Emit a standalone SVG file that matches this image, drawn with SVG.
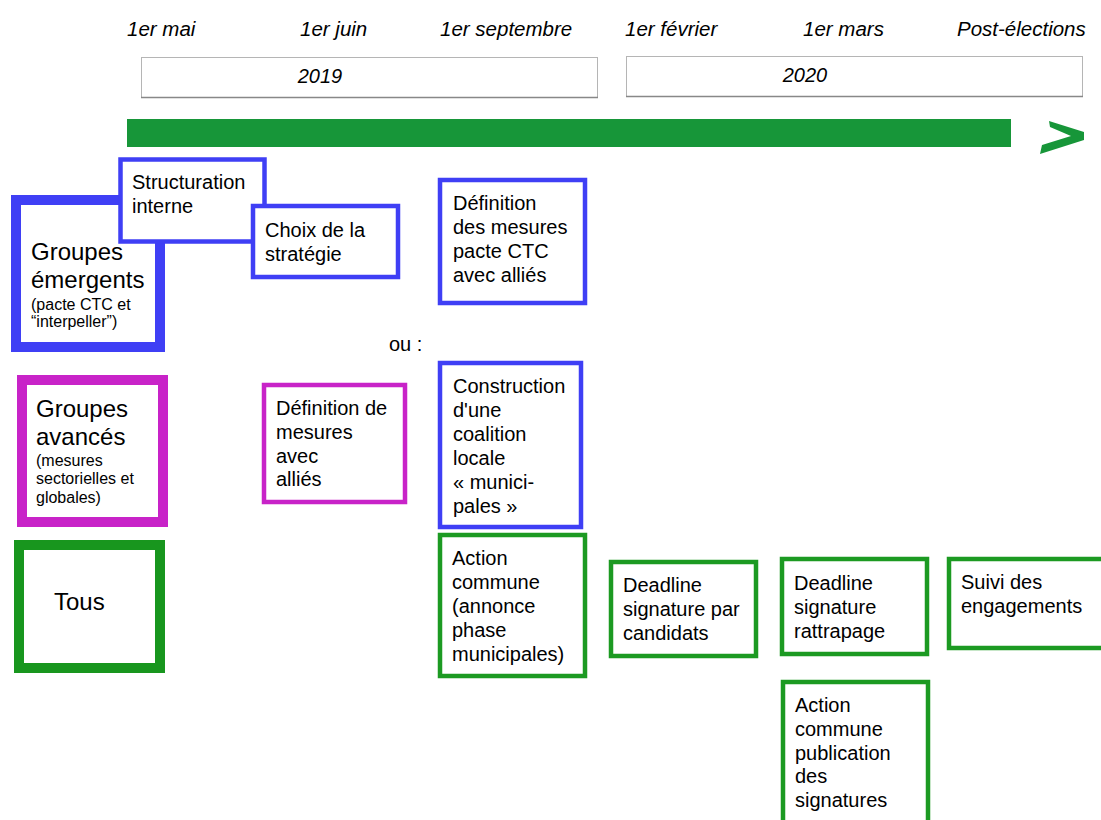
<svg xmlns="http://www.w3.org/2000/svg" width="1101" height="820" viewBox="0 0 1101 820">
<style>
text{font-family:"Liberation Sans",Arial,sans-serif;fill:#000}
.hdr{font-size:20.5px;font-style:italic}
.yr{font-size:20px;font-style:italic;text-anchor:middle}
.t{font-size:20px}
.big{font-size:24px}
.sm{font-size:16px}
.yb{fill:#fff;stroke:#b5b5b5;stroke-width:1}
.b{fill:#fff;stroke:#3f3ff5;stroke-width:4.5}
.bT{fill:#fff;stroke:#3f3ff5;stroke-width:10}
.m{fill:#fff;stroke:#c823c8;stroke-width:4.5}
.mT{fill:#fff;stroke:#c823c8;stroke-width:10}
.g{fill:#fff;stroke:#1c9a22;stroke-width:4.5}
.gT{fill:#fff;stroke:#18961e;stroke-width:10}
</style>
<rect width="1101" height="820" fill="#fff"/>
<g id="timeline">
<text class="hdr" x="127" y="36">1er mai</text>
<text class="hdr" x="300" y="36">1er juin</text>
<text class="hdr" x="440" y="36">1er septembre</text>
<text class="hdr" x="625" y="36">1er février</text>
<text class="hdr" x="803" y="36">1er mars</text>
<text class="hdr" x="957" y="36">Post-élections</text>
<rect class="yb" x="141.5" y="57.5" width="456" height="40"/>
<line x1="141" y1="97.5" x2="598" y2="97.5" stroke="#888" stroke-width="1.5"/>
<text class="yr" x="320" y="83">2019</text>
<rect class="yb" x="626.5" y="56.5" width="456" height="40"/>
<line x1="626" y1="96.5" x2="1083" y2="96.5" stroke="#888" stroke-width="1.5"/>
<text class="yr" x="805" y="82">2020</text>
<rect x="127" y="119" width="884" height="28" fill="#179639"/>
<polygon points="1049,121 1084,132 1084,140 1040,154 1042,145 1071,136 1050,127" fill="#179639"/>
</g>
<g id="groupes-emergents">
<rect class="bT" x="16" y="200" width="144" height="147"/>
<text class="big" x="31" y="260">Groupes</text>
<text class="big" x="31" y="288">émergents</text>
<text class="sm" x="31" y="310">(pacte CTC et</text>
<text class="sm" x="31" y="327">“interpeller”)</text>
</g>
<g id="structuration">
<rect class="b" x="120.5" y="159.5" width="144" height="82"/>
<text class="t" x="132" y="189">Structuration</text>
<text class="t" x="132" y="213">interne</text>
</g>
<g id="choix">
<rect class="b" x="253" y="206" width="145" height="71"/>
<text class="t" x="265" y="237">Choix de la</text>
<text class="t" x="265" y="261">stratégie</text>
</g>
<g id="definition-pacte">
<rect class="b" x="440" y="180" width="145" height="123"/>
<text class="t" x="453" y="210">Définition</text>
<text class="t" x="453" y="234">des mesures</text>
<text class="t" x="453" y="258">pacte CTC</text>
<text class="t" x="453" y="282">avec alliés</text>
</g>
<g id="ou">
<text class="t" x="389" y="351">ou :</text>
</g>
<g id="construction">
<rect class="b" x="440" y="363" width="141" height="164"/>
<text class="t" x="453" y="393">Construction</text>
<text class="t" x="453" y="417">d'une</text>
<text class="t" x="453" y="441">coalition</text>
<text class="t" x="453" y="465">locale</text>
<text class="t" x="453" y="489">« munici-</text>
<text class="t" x="453" y="513">pales »</text>
</g>
<g id="groupes-avances">
<rect class="mT" x="22" y="380" width="141" height="142"/>
<text class="big" x="36" y="417">Groupes</text>
<text class="big" x="36" y="445">avancés</text>
<text class="sm" x="36" y="466">(mesures</text>
<text class="sm" x="36" y="484">sectorielles et</text>
<text class="sm" x="36" y="503">globales)</text>
</g>
<g id="definition-mesures">
<rect class="m" x="264" y="385" width="141" height="117"/>
<text class="t" x="276" y="415">Définition de</text>
<text class="t" x="276" y="439">mesures</text>
<text class="t" x="276" y="463">avec</text>
<text class="t" x="276" y="486">alliés</text>
</g>
<g id="tous">
<rect class="gT" x="19" y="545" width="141" height="123"/>
<text class="big" x="54" y="610">Tous</text>
</g>
<g id="action-commune">
<rect class="g" x="440" y="535" width="145" height="141"/>
<text class="t" x="452" y="565">Action</text>
<text class="t" x="452" y="589">commune</text>
<text class="t" x="452" y="613">(annonce</text>
<text class="t" x="452" y="637">phase</text>
<text class="t" x="452" y="661">municipales)</text>
</g>
<g id="deadline-candidats">
<rect class="g" x="611" y="562" width="145" height="94"/>
<text class="t" x="623" y="592">Deadline</text>
<text class="t" x="623" y="616">signature par</text>
<text class="t" x="623" y="640">candidats</text>
</g>
<g id="deadline-rattrapage">
<rect class="g" x="782" y="559" width="145" height="95"/>
<text class="t" x="794" y="590">Deadline</text>
<text class="t" x="794" y="614">signature</text>
<text class="t" x="794" y="638">rattrapage</text>
</g>
<g id="suivi">
<rect class="g" x="949" y="559" width="160" height="89"/>
<text class="t" x="961" y="589">Suivi des</text>
<text class="t" x="961" y="613">engagements</text>
</g>
<g id="action-publication">
<rect class="g" x="783" y="682" width="145" height="150"/>
<text class="t" x="795" y="712">Action</text>
<text class="t" x="795" y="736">commune</text>
<text class="t" x="795" y="760">publication</text>
<text class="t" x="795" y="783">des</text>
<text class="t" x="795" y="807">signatures</text>
</g>
<g id="connectors"></g>
</svg>
